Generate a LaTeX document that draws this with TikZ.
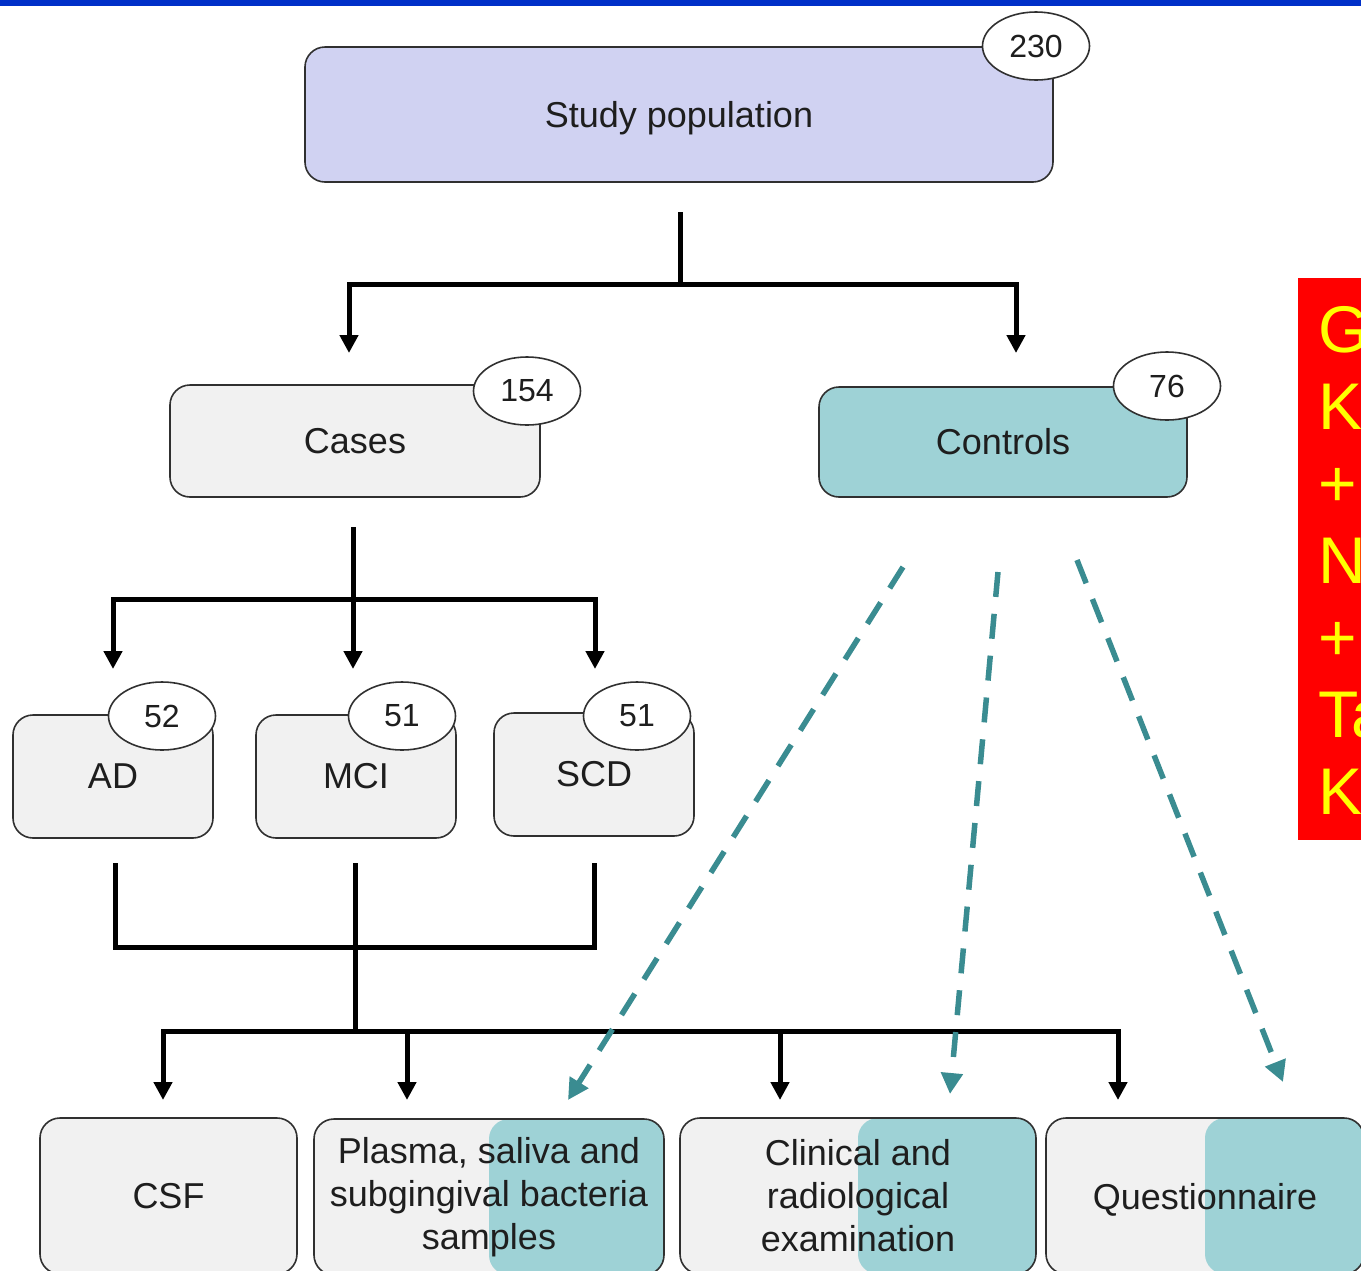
\documentclass[tikz,border=0pt]{standalone}
\usepackage{fontspec}
\setmainfont{Liberation Sans}
\usetikzlibrary{arrows.meta,shapes.geometric}
\definecolor{lav}{HTML}{D0D2F2}
\definecolor{lgray}{HTML}{F1F1F1}
\definecolor{tealf}{HTML}{9ED2D6}
\definecolor{teald}{HTML}{3A8C91}
\definecolor{barblue}{HTML}{0030C8}
\definecolor{txt}{HTML}{1E1E1E}
\definecolor{bord}{HTML}{303030}
\definecolor{redbg}{HTML}{FF0000}
\definecolor{yel}{HTML}{FFFF00}
\newcommand\boxfont{\fontsize{36}{43}\selectfont}
\newcommand\badgefont{\fontsize{32}{36}\selectfont}
\newcommand\redfont{\fontsize{66}{77}\selectfont}
\begin{document}
\begin{tikzpicture}[x=1pt,y=-1pt,
 stepbox/.style={draw=bord,line width=1.6pt,rounded corners=20pt,inner sep=0pt,font=\boxfont,text=txt,align=center,fill=lgray},
 badge/.style={ellipse,draw=bord,line width=1.6pt,fill=white,inner sep=0pt,minimum width=107pt,minimum height=68pt,font=\badgefont,text=txt},
 conn/.style={line width=5pt,-{Triangle[width=18pt,length=18pt]}},
 plainline/.style={line width=5pt},
 dconn/.style={line width=5.5pt,draw=teald,dash pattern=on 25pt off 17pt,-{Triangle[width=21pt,length=21pt,fill=teald]}},
 split/.style={path picture={\fill[tealf] (path picture bounding box.north) rectangle (path picture bounding box.south east);}},
 redtext/.style={anchor=base west,inner sep=0pt,font=\redfont,text=yel},
]
\useasboundingbox (0,0) rectangle (1361,1270);
\clip (0,0) rectangle (1361,1270);
\fill[white] (0,0) rectangle (1361,1270);
\fill[barblue] (0,0) rectangle (1361,6);

% boxes
\node[stepbox,fill=lav,text depth=0pt,minimum width=748pt,minimum height=135pt] (study) at (679,114.5) {Study population};
\node[stepbox,minimum width=370pt,minimum height=112pt] (cases) at (355,441) {Cases};
\node[stepbox,fill=tealf,minimum width=368pt,minimum height=110pt] (controls) at (1003,442) {Controls};
\node[stepbox,minimum width=200pt,minimum height=123pt] (ad) at (113,776.5) {AD};
\node[stepbox,minimum width=200pt,minimum height=123pt] (mci) at (356,776.5) {MCI};
\node[stepbox,minimum width=200pt,minimum height=123pt] (scd) at (594,774.5) {SCD};
\node[stepbox,minimum width=257pt,minimum height=156pt] (csf) at (168.5,1196) {CSF};
\node[stepbox,split,minimum width=350pt,minimum height=156pt] (plasma) at (489,1197) {Plasma, saliva and\\subgingival bacteria\\samples};
\node[stepbox,split,minimum width=356pt,minimum height=156pt] (clinical) at (858,1196) {Clinical and\\radiological\\examination};
\node[stepbox,split,text depth=0pt,minimum width=318pt,minimum height=156pt] (quest) at (1205,1196) {Questionnaire};

% badges
\node[badge] (b230) at (1036,46) {230};
\node[badge] (b154) at (527,391) {154};
\node[badge] (b76) at (1167,386) {76};
\node[badge] (b52) at (162,716) {52};
\node[badge] (b51a) at (402,716) {51};
\node[badge] (b51b) at (637,716) {51};

% connectors: study -> cases / controls
\coordinate (s0) at (680,212);
\coordinate (s1) at (680,284);
\coordinate (tc) at (349,353);
\coordinate (tk) at (1016,353);
\draw[plainline] (s0) -- (s1);
\draw[conn] (s1) -| (tc);
\draw[conn] (s1) -| (tk);

% cases -> AD / MCI / SCD
\coordinate (c0) at (353,527);
\coordinate (c1) at (353,599);
\coordinate (ta) at (113,669);
\coordinate (tm) at (353,669);
\coordinate (ts) at (595,669);
\draw[plainline] (c0) -- (c1);
\draw[conn] (c1) -| (ta);
\draw[conn] (c1) -| (ts);
\draw[conn] (c1) -- (tm);

% merge -> bottom boxes
\coordinate (m1) at (115,863);
\coordinate (m2) at (355,863);
\coordinate (m3) at (594,863);
\coordinate (mj) at (355,947);
\coordinate (mb) at (355,1031);
\coordinate (e1) at (163,1100);
\coordinate (e2) at (407,1100);
\coordinate (e3) at (780,1100);
\coordinate (e4) at (1118,1100);
\draw[plainline] (m1) |- (mj) -| (m3);
\draw[plainline] (m2) -- (mb);
\draw[conn] (mb) -| (e1);
\draw[conn] (mb) -| (e2);
\draw[conn] (mb) -| (e3);
\draw[conn] (mb) -| (e4);

% dashed controls arrows
\coordinate (d1s) at (903,567);
\coordinate (d1e) at (568,1100);
\coordinate (d2s) at (998,572);
\coordinate (d2e) at (950,1094);
\coordinate (d3s) at (1077,560);
\coordinate (d3e) at (1283,1082);
\draw[dconn] (d1s) -- (d1e);
\draw[dconn] (d2s) -- (d2e);
\draw[dconn] (d3s) -- (d3e);

% red overlay
\fill[redbg] (1298,278) rectangle (1370,840);
\node[redtext] (r1) at (1318,352) {G};
\node[redtext] (r2) at (1318,429) {K};
\node[redtext] (r3) at (1318,506) {+};
\node[redtext] (r4) at (1318,583) {N};
\node[redtext] (r5) at (1318,660) {+};
\node[redtext] (r6) at (1318,737) {Ta};
\node[redtext] (r7) at (1318,814) {K};
\end{tikzpicture}
\end{document}
